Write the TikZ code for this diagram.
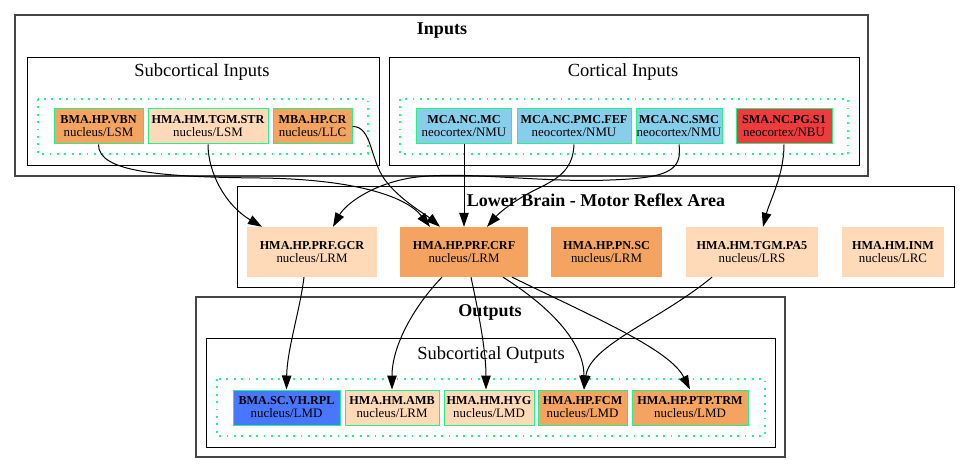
\documentclass[tikz,border=0pt]{standalone}
\usepackage{fontspec}
\setmainfont{Liberation Serif}
\usetikzlibrary{arrows.meta}
\definecolor{sandy}{RGB}{244,164,96}
\definecolor{peach}{RGB}{255,218,185}
\definecolor{sky}{RGB}{135,206,235}
\definecolor{redb}{RGB}{238,59,59}
\definecolor{royal}{RGB}{72,118,255}
\definecolor{mint}{RGB}{40,238,140}
\definecolor{outergray}{RGB}{70,70,70}
\tikzset{
  nbox/.style={draw=mint, line width=1pt, inner sep=0pt, align=center,
    minimum height=35pt, font=\fontsize{12.2pt}{13pt}\selectfont},
  lbox/.style={draw=none, inner sep=0pt, align=center,
    minimum height=50pt, font=\fontsize{12.2pt}{12.5pt}\selectfont},
  outerbox/.style={draw=outergray, line width=1.4pt},
  innerbox/.style={draw=black, line width=0.9pt},
  dotbox/.style={draw=mint, line width=1.4pt, dash pattern=on 1.8pt off 5.6pt},
  btitle/.style={anchor=base, font=\fontsize{18pt}{20pt}\selectfont\bfseries, inner sep=0pt},
  rtitle/.style={anchor=base, font=\fontsize{18.5pt}{20pt}\selectfont, inner sep=0pt},
  edge/.style={draw=black, line width=1pt, -{Triangle[length=14pt,width=9.5pt]}},
}
\newcommand{\lab}[2]{{\bfseries #1}\\{\fontsize{12.9pt}{13pt}\selectfont #2}}
\begin{document}
\begin{tikzpicture}[x=1pt,y=-1pt]
\useasboundingbox (0,0) rectangle (971,473);
% ---- clusters ----
\draw[outerbox] (15,15) rectangle (868,176);
\node[btitle] (tin) at (442,35) {Inputs};
\draw[innerbox] (27,57) rectangle (379,165);
\node[rtitle] (tsub) at (202,77) {Subcortical Inputs};
\draw[dotbox] (38,99) rectangle (368,154);
\draw[innerbox] (389,57) rectangle (859,165);
\node[rtitle] (tcor) at (623,77) {Cortical Inputs};
\draw[dotbox] (400,99) rectangle (848,154);

\draw[innerbox] (237,186) rectangle (954,287);
\node[btitle] (tlow) at (596,206) {Lower Brain - Motor Reflex Area};

\draw[outerbox] (196,297) rectangle (785,457);
\node[btitle] (tout) at (490,316) {Outputs};
\draw[innerbox] (206,338) rectangle (775,447);
\node[rtitle] (tsubo) at (491,359) {Subcortical Outputs};
\draw[dotbox] (217,379) rectangle (765,436);

% ---- input nodes ----
\node[nbox, fill=sandy, minimum width=89pt] (vbn) at (98.5,126.5) {\lab{BMA.HP.VBN}{nucleus/LSM}};
\node[nbox, fill=peach, minimum width=120pt] (str) at (208,126.5) {\lab{HMA.HM.TGM.STR}{nucleus/LSM}};
\node[nbox, fill=sandy, minimum width=79pt] (cr) at (312.5,126.5) {\lab{MBA.HP.CR}{nucleus/LLC}};
\node[nbox, fill=sky, minimum width=95pt] (mc) at (464,126.5) {\lab{MCA.NC.MC}{neocortex/NMU}};
\node[nbox, fill=sky, minimum width=114pt] (fef) at (574,126.5) {\lab{MCA.NC.PMC.FEF}{neocortex/NMU}};
\node[nbox, fill=sky, minimum width=86pt] (smc) at (679,126.5) {\lab{MCA.NC.SMC}{neocortex/NMU}};
\node[nbox, fill=redb, minimum width=96pt] (sma) at (784,126.5) {\lab{SMA.NC.PG.S1}{neocortex/NBU}};

% ---- lower brain nodes ----
\node[lbox, fill=peach, minimum width=130pt] (gcr) at (312,252) {\lab{HMA.HP.PRF.GCR}{nucleus/LRM}};
\node[lbox, fill=sandy, minimum width=128pt] (crf) at (464,252) {\lab{HMA.HP.PRF.CRF}{nucleus/LRM}};
\node[lbox, fill=sandy, minimum width=111pt] (pnsc) at (606.5,252) {\lab{HMA.HP.PN.SC}{nucleus/LRM}};
\node[lbox, fill=peach, minimum width=132pt] (pa5) at (752,252) {\lab{HMA.HM.TGM.PA5}{nucleus/LRS}};
\node[lbox, fill=peach, minimum width=102pt] (inm) at (893,252) {\lab{HMA.HM.INM}{nucleus/LRC}};

% ---- output nodes ----
\node[nbox, fill=royal, minimum width=107pt] (rpl) at (286.5,407.5) {\lab{BMA.SC.VH.RPL}{nucleus/LMD}};
\node[nbox, fill=peach, minimum width=94pt] (amb) at (392,407.5) {\lab{HMA.HM.AMB}{nucleus/LRM}};
\node[nbox, fill=peach, minimum width=90pt] (hyg) at (489,407.5) {\lab{HMA.HM.HYG}{nucleus/LMD}};
\node[nbox, fill=sandy, minimum width=89pt] (fcm) at (582.5,407.5) {\lab{HMA.HP.FCM}{nucleus/LMD}};
\node[nbox, fill=sandy, minimum width=116pt] (trm) at (690,407.5) {\lab{HMA.HP.PTP.TRM}{nucleus/LMD}};

% ---- edges into lower brain ----
\draw[edge] (vbn.south) .. controls (98,172) and (160,177) .. (260,178)
   .. controls (350,179) and (405,195) .. ([xshift=-34pt]crf.north);
\draw[edge] (str.south) .. controls (208,172) and (225,205) .. ([xshift=-50pt]gcr.north);
\draw[edge] (cr.east) .. controls (372,126) and (370,160) .. (385,180)
   .. controls (400,200) and (425,214) .. ([xshift=-24pt]crf.north);
\draw[edge] (mc.south) -- (crf.north);
\draw[edge] (fef.south) .. controls (573,172) and (555,180) .. (535,190)
   .. controls (515,200) and (500,212) .. ([xshift=23pt]crf.north);
\draw[edge] (smc.south) .. controls (683,172) and (665,178) .. (610,180)
   .. controls (540,183) and (460,170) .. (410,178)
   .. controls (370,185) and (345,205) .. ([xshift=21pt]gcr.north);
\draw[edge] (sma.south) .. controls (784,175) and (770,200) .. ([xshift=11pt]pa5.north);

% ---- edges into outputs ----
\draw[edge] ([xshift=-8pt]gcr.south) .. controls (300,310) and (287,350) .. (rpl.north);
\draw[edge] ([xshift=-22pt]crf.south) .. controls (415,305) and (392,345) .. (amb.north);
\draw[edge] ([xshift=7pt]crf.south) .. controls (478,310) and (486,350) .. ([xshift=-3pt]hyg.north);
\draw[edge] ([xshift=39pt]crf.south) .. controls (555,310) and (584,345) .. ([xshift=1.5pt]fcm.north);
\draw[edge] ([xshift=48pt]crf.south) .. controls (600,320) and (670,350) .. (trm.north);
\draw[edge] ([xshift=-40pt]pa5.south) .. controls (660,320) and (590,345) .. ([xshift=1.5pt]fcm.north);
\end{tikzpicture}
\end{document}
